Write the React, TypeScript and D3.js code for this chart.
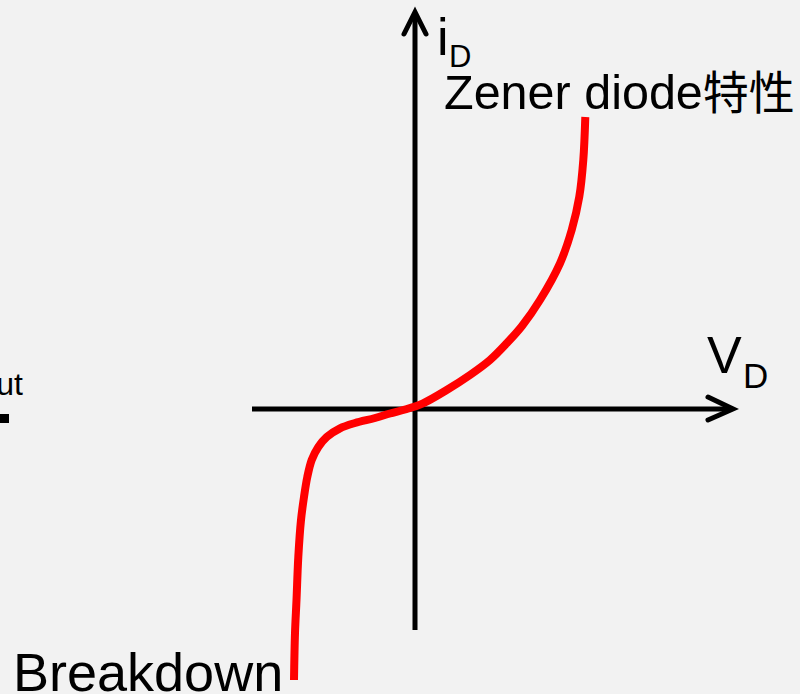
import React from "react";
import * as d3 from "d3";

// Zener diode I-V characteristic (arbitrary units)
const voltage = [-12.1, -12.0, -11.85, -11.67, -11.4, -11.1, -10.77, -10.33, -9.67, -8.83, -7.5, -6.0, -4.0, -2.5, -1.0, 0.8, 3.17, 5.5, 7.5, 9.17, 10.7, 12.5, 14.5, 15.67, 16.43, 16.83, 17.03];
const current = [-27.1, -22.4, -19.1, -14.8, -11.1, -8.8, -6.8, -5.1, -3.8, -2.8, -1.93, -1.4, -0.9, -0.45, -0.05, 0.57, 1.9, 3.4, 4.9, 6.57, 8.3, 10.9, 14.57, 17.9, 21.23, 24.9, 29.2];
const xDomain = [-16.3, 31.8];
const yDomain = [-22.1, 39.7];

const W = 800;
const H = 694;
const FONT = "'Liberation Sans', Arial, 'Noto Sans CJK SC', sans-serif";

export default function App() {
  const x = d3.scaleLinear().domain(xDomain).range([252, 733]);
  const y = d3.scaleLinear().domain(yDomain).range([630, 12]);
  const pts: [number, number][] = voltage.map((v, i) => [v, current[i]]);
  const line = d3
    .line<[number, number]>()
    .x((d) => x(d[0]))
    .y((d) => y(d[1]))
    .curve(d3.curveCatmullRom.alpha(0.5));

  const x0 = x(0);
  const y0 = y(0);
  const xL = x(xDomain[0]);
  const xR = x(xDomain[1]);
  const yT = y(yDomain[1]);
  const yB = y(yDomain[0]);

  return (
    <svg
      width={W}
      height={H}
      style={{ position: "absolute", left: 0, top: 0, background: "#f2f2f2" }}
      fontFamily={FONT}
    >
      <rect x={0} y={0} width={W} height={H} fill="#f2f2f2" />
      {/* axes */}
      <line x1={xL} y1={y0} x2={xR - 2} y2={y0} stroke="#000" strokeWidth={5} />
      <path
        d={`M${xR - 25},${y0 - 12} L${xR},${y0} L${xR - 25},${y0 + 11}`}
        fill="none"
        stroke="#000"
        strokeWidth={5}
        strokeLinecap="round"
      />
      <line x1={x0} y1={yB} x2={x0} y2={yT + 2} stroke="#000" strokeWidth={5} />
      <path
        d={`M${x0 - 11},${yT + 22} L${x0},${yT} L${x0 + 11},${yT + 22}`}
        fill="none"
        stroke="#000"
        strokeWidth={5}
        strokeLinecap="round"
      />
      {/* curve */}
      <path d={line(pts) || ""} fill="none" stroke="#ff0000" strokeWidth={8} />
      {/* labels */}
      <text x={437} y={55} fontSize={52} fill="#000">i</text>
      <text x={449} y={67} fontSize={31} fill="#000">D</text>
      <text x={444} y={109} fontSize={48.5} fill="#000">
        Zener diode<tspan fontSize={46} fontFamily="'Noto Sans CJK SC', sans-serif">特性</tspan>
      </text>
      <text x={707} y={373} fontSize={52} fill="#000">V</text>
      <text x={743} y={388} fontSize={35} fill="#000">D</text>
      <text x={13} y={691} fontSize={54} fill="#000">Breakdown</text>
      <text x={23} y={395} fontSize={32} fill="#000" textAnchor="end">out</text>
      <rect x={0} y={414} width={9} height={9} fill="#000" />
    </svg>
  );
}
